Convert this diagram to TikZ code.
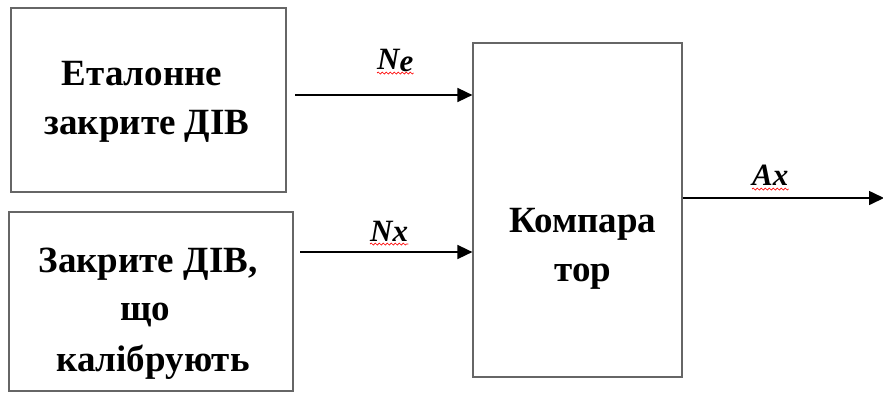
\documentclass[tikz,border=0pt]{standalone}
\usepackage{fontspec}
\setmainfont{Liberation Serif}
\usetikzlibrary{arrows.meta,decorations.pathmorphing}
\begin{document}
\begin{tikzpicture}[x=1pt,y=-1pt,
 blockbox/.style={draw=black!60, line width=1.2pt, inner sep=0pt},
 txt/.style={font=\fontsize{37}{40}\selectfont\bfseries, inner sep=0pt, anchor=base},
 lbl/.style={font=\fontsize{31}{36}\selectfont\bfseries\itshape, inner sep=0pt, anchor=base west},
 sig/.style={line width=1.6pt, -{Triangle[length=15pt,width=14pt]}},
 spell/.style={red, line width=0.7pt, decorate, decoration={snake, segment length=4pt, amplitude=1pt}}]
\useasboundingbox (0,0) rectangle (883,392);
% blocks
\node[blockbox, minimum width=275pt, minimum height=184pt] (b1) at (148.5,100) {};
\node[blockbox, minimum width=284pt, minimum height=179pt] (b2) at (151,301.5) {};
\node[blockbox, minimum width=209pt, minimum height=334pt] (b3) at (577.5,210) {};
% block texts
\node[txt] (t11) at (142,85) {Еталонне};
\node[txt] (t12) at (147,134) {закрите ДІВ};
\node[txt] (t21) at (148,272) {Закрите ДІВ,};
\node[txt] (t22) at (145,320) {що};
\node[txt] (t23) at (153,371) {калібрують};
\node[txt] (t31) at (583,232) {Компара};
\node[txt] (t32) at (583,281) {тор};
% connectors
\coordinate (s1) at (295,95);
\coordinate (s2) at (300,252);
\coordinate (s3) at (b3.east |- 0,198);
\coordinate (o) at (884,198);
\draw[sig] (s1) -- (s1 -| b3.west);
\draw[sig] (s2) -- (s2 -| b3.west);
\draw[sig] (s3) -- (o);
% labels
\node[lbl] (ne) at (377,69) {N\raisebox{-2pt}{e}};
\node[lbl] (nx) at (370,241) {Nx};
\node[lbl] (ax) at (752,185) {Ax};
\draw[spell] (ne.south west |- 0,73) -- (ne.south east |- 0,73);
\draw[spell] (nx.south west |- 0,244) -- (nx.south east |- 0,244);
\draw[spell] (ax.south west |- 0,189) -- (ax.south east |- 0,189);
\end{tikzpicture}
\end{document}
